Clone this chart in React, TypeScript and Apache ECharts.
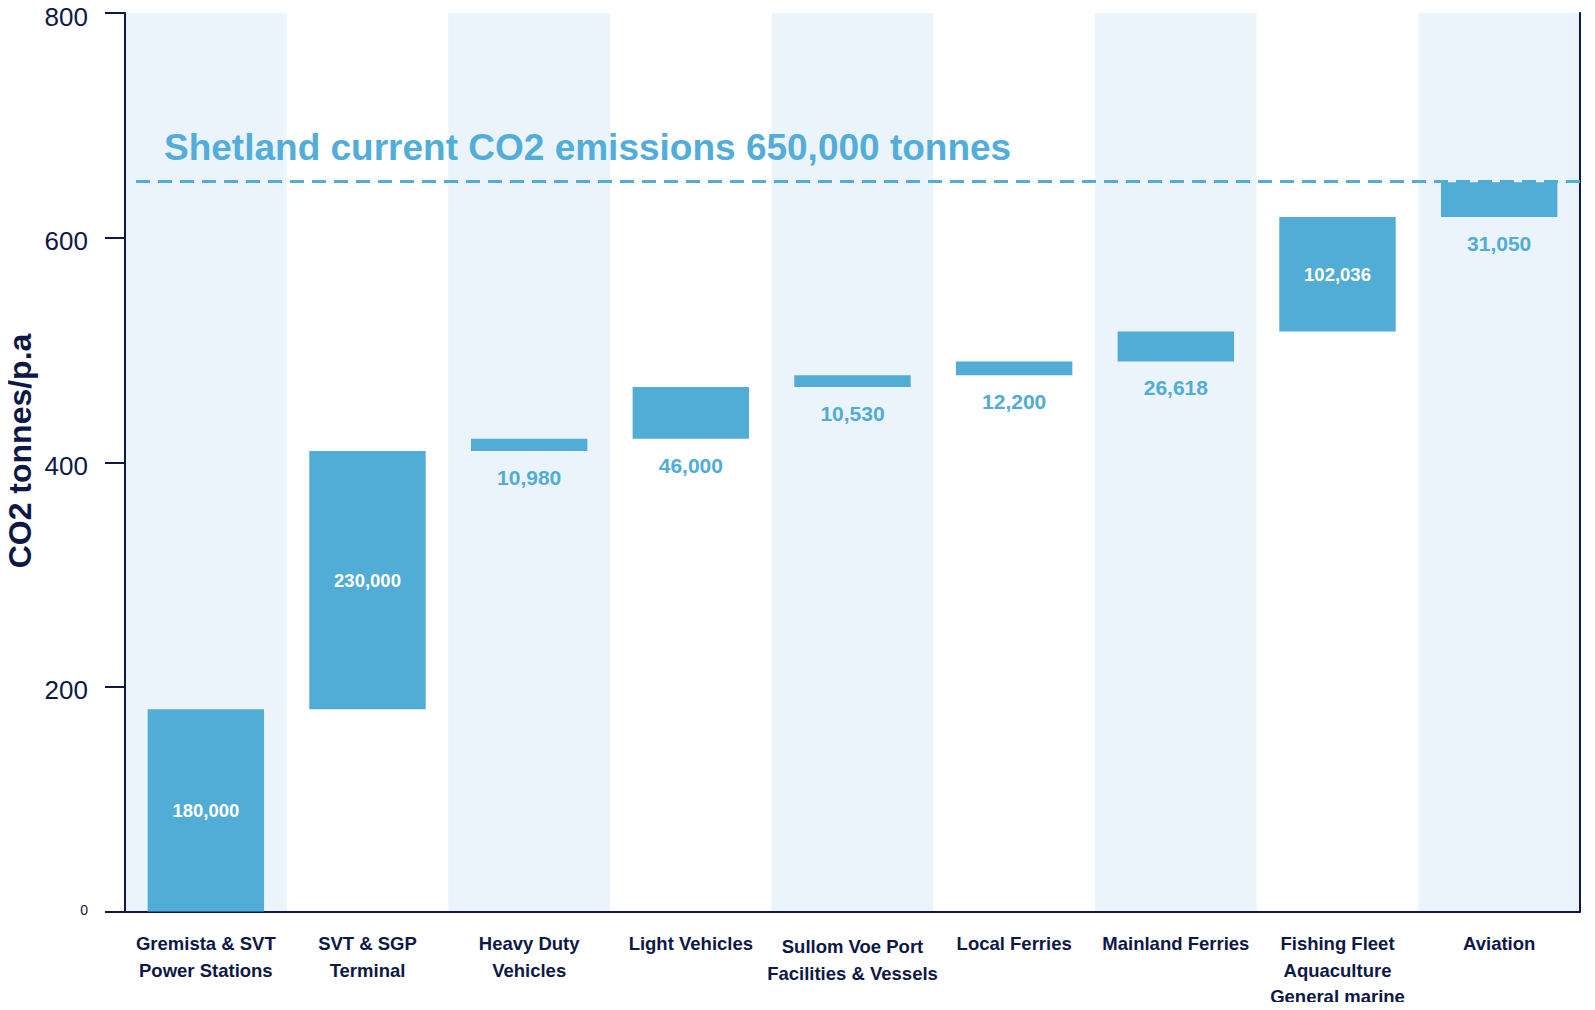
import React, { useEffect, useRef } from "react";
import * as echarts from "echarts";

// Emission sources along the x axis
const categories = [
  "Gremista & SVT\nPower Stations",
  "SVT & SGP\nTerminal",
  "Heavy Duty\nVehicles",
  "Light Vehicles",
  "Sullom Voe Port\nFacilities & Vessels",
  "Local Ferries",
  "Mainland Ferries",
  "Fishing Fleet\nAquaculture\nGeneral marine",
  "Aviation",
];

// CO2 tonnes per year for each source
const emissions = [180000, 230000, 10980, 46000, 10530, 12200, 26618, 102036, 31050];

// Which bars carry their value inside (white) rather than beneath (blue)
const insideLabel = [true, true, false, false, false, false, false, true, false];

// Total current emissions, drawn as the dashed reference line
const totalEmissions = 650000;
const totalLabel = "Shetland current CO2 emissions 650,000 tonnes";
const yAxisTitle = "CO2 tonnes/p.a";

// Y axis range and step (tonnes; labelled in thousands)
const yMax = 800000;
const yStep = 200000;

const BAR = "#51ACD6";
const NAVY = "#0E1846";
const BAND = "#ECF4FB";
const FONT = "Liberation Sans, Arial, sans-serif";

export default function App() {
  const ref = useRef<HTMLDivElement>(null);

  useEffect(() => {
    if (!ref.current) return;
    const chart = echarts.init(ref.current, undefined, { renderer: "svg" });

    // waterfall offsets: each bar starts where the previous one ended
    const bases: number[] = [];
    let running = 0;
    for (const v of emissions) {
      bases.push(running);
      running += v;
    }

    const fmt = (v: number) => v.toLocaleString("en-US");

    chart.setOption({
      animation: false,
      textStyle: { fontFamily: FONT },
      grid: { left: 125, right: 15, top: 13, bottom: 97, containLabel: false },
      xAxis: {
        type: "category",
        data: categories.map((c) =>
          c.startsWith("Sullom")
            ? { value: c, textStyle: { padding: [3, 0, 0, 0] } }
            : c
        ),
        axisLine: { lineStyle: { color: NAVY, width: 2 } },
        axisTick: { show: false },
        splitArea: { show: true, areaStyle: { color: [BAND, "rgba(255,255,255,0)"] } },
        axisLabel: {
          interval: 0,
          margin: 19,
          color: NAVY,
          fontSize: 18.5,
          fontWeight: "bold",
          lineHeight: 26.5,
          fontFamily: FONT,
        },
      },
      yAxis: [
        {
          type: "value",
          min: 0,
          max: yMax,
          interval: yStep,
          axisLine: { show: true, lineStyle: { color: NAVY, width: 2 } },
          axisTick: { show: true, length: 20, lineStyle: { color: NAVY, width: 2 } },
          splitLine: { show: false },
          axisLabel: {
            margin: 37,
            color: NAVY,
            fontSize: 26,
            padding: [7, 0, 0, 0],
            fontFamily: FONT,
            formatter: (v: number) => (v === 0 ? "{small|0}" : String(v / 1000)),
            rich: { small: { fontSize: 14, color: NAVY, padding: [0, 0, 10, 0] } },
          },
        },
        {
          type: "value",
          position: "right",
          min: 0,
          max: yMax,
          interval: yStep,
          axisLine: { show: true, lineStyle: { color: NAVY, width: 2 } },
          axisTick: { show: false },
          axisLabel: { show: false },
          splitLine: { show: false },
        },
      ],
      series: [
        {
          type: "bar",
          stack: "fall",
          barWidth: "72%",
          itemStyle: { color: "transparent" },
          emphasis: { disabled: true },
          silent: true,
          data: bases,
        },
        {
          type: "bar",
          stack: "fall",
          barWidth: "72%",
          itemStyle: { color: BAR },
          data: emissions.map((v, i) => ({
            value: v,
            label: insideLabel[i]
              ? {
                  show: true,
                  position: "inside",
                  color: "#FFFFFF",
                  fontSize: 18.5,
                  fontWeight: "bold",
                  formatter: fmt(v),
                }
              : {
                  show: true,
                  position: "bottom",
                  distance: 16,
                  color: BAR,
                  fontSize: 21,
                  fontWeight: "bold",
                  formatter: fmt(v),
                },
          })),
          markLine: {
            silent: true,
            symbol: "none",
            label: { show: false },
            lineStyle: { color: BAR, width: 3, type: [14, 8] },
            data: [[{ x: 136, yAxis: totalEmissions }, { x: 1580, yAxis: totalEmissions }]],
          },
        },
      ],
      graphic: [
        {
          type: "text",
          z: 100,
          left: 164,
          top: 129,
          style: {
            text: totalLabel,
            fill: "#52AED8",
            fontSize: 37,
            fontWeight: "bold",
            fontFamily: FONT,
          },
        },
        {
          type: "text",
          z: 100,
          x: 20,
          y: 451,
          rotation: Math.PI / 2,
          style: {
            text: yAxisTitle,
            fill: NAVY,
            fontSize: 32,
            fontWeight: "bold",
            fontFamily: FONT,
            align: "center",
            verticalAlign: "middle",
          },
        },
      ],
    });

    return () => chart.dispose();
  }, []);

  return <div ref={ref} style={{ width: 1595, height: 1010, margin: -8 }} />;
}
